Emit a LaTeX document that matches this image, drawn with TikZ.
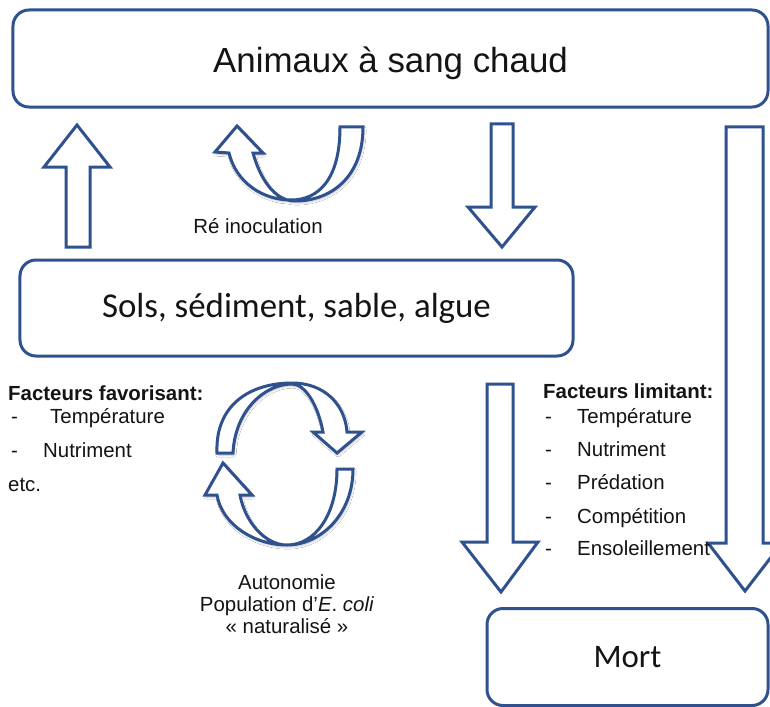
\documentclass[tikz,border=0pt]{standalone}
\usepackage{fontspec}
\setmainfont{Liberation Sans}
\newfontfamily\calib{Carlito}
\usetikzlibrary{shadows.blur}
\definecolor{ob}{RGB}{47,82,143}
\definecolor{tx}{RGB}{20,20,20}
\begin{document}
\begin{tikzpicture}[x=1bp,y=-1bp,
  box/.style={draw=ob, line width=3bp, rounded corners=16bp, fill=white, text=tx, inner sep=0pt},
  blk/.style={draw=ob, line width=3bp, fill=white, line join=miter},
  crv/.style={draw=ob, line width=3bp, fill=white, line join=miter,
    blur shadow={shadow xshift=1bp, shadow yshift=-2bp, shadow opacity=25, shadow blur steps=6}},
  small/.style={font=\fontsize{20.5}{22}\selectfont, text=tx, inner sep=0pt},
  smallb/.style={font=\bfseries\fontsize{20.5}{22}\selectfont, text=tx, inner sep=0pt}]
\clip (0,0) rectangle (770,707);
\useasboundingbox (0,0) rectangle (770,707);
\fill[white] (0,0) rectangle (770,707);

% boxes
\node[box, minimum width=755bp, minimum height=97bp, text height=29bp, text depth=0bp, font=\fontsize{35}{40}\selectfont] (animaux) at (390.5,58.5) {Animaux à sang chaud};
\node[box, minimum width=553bp, minimum height=96bp, font=\calib\fontsize{35}{40}\selectfont] (sols) at (296.5,308) {Sols, sédiment, sable, algue};
\node[box, minimum width=281bp, minimum height=97bp, font=\calib\fontsize{33}{40}\selectfont] (mort) at (627.5,657) {Mort};

% straight block arrows
\draw[blk] (66,247) -- (66,167) -- (44,167) -- (77,125) -- (110,167) -- (90,167) -- (90,247) -- cycle;
\draw[blk] (491,124) -- (513,124) -- (513,207) -- (535,207) -- (502,247) -- (468,207) -- (491,207) -- cycle;
\draw[blk] (726,127) -- (763,127) -- (763,543) -- (782,543) -- (745,591) -- (708,543) -- (726,543) -- cycle;
\draw[blk] (487,384) -- (513,384) -- (513,542) -- (538,542) -- (501,592) -- (462,542) -- (487,542) -- cycle;

% curved arrow: re-inoculation
\draw[crv] (363,127) -- (340,127) .. controls (340,180) and (318,200) .. (291,200)
  .. controls (262,200) and (236,182) .. (229,153) -- (215,152) -- (237,126) -- (263,153) -- (253,153)
  .. controls (260,178) and (274,201) .. (295,201) .. controls (330,201) and (363,178) .. (363,127) -- cycle;

% cycle: top arrow
\draw[crv] (217,453) .. controls (215,405) and (250,383) .. (292,383)
  .. controls (325,383) and (345,405) .. (347,432) -- (362,432) -- (337,453) -- (313,432) -- (323,432)
  .. controls (318,405) and (305,384) .. (292,384) .. controls (265,384) and (235,410) .. (233,453) -- cycle;
% cycle: bottom arrow
\draw[crv] (353,469) -- (337,469) .. controls (337,515) and (315,545) .. (287,545)
  .. controls (255,545) and (222,525) .. (217,495) -- (205,495) -- (223,463) -- (252,495) -- (240,495)
  .. controls (245,522) and (265,545) .. (287,545) .. controls (320,545) and (353,515) .. (353,469) -- cycle;

% labels
\node[small] (reino) at (258,226) {Ré inoculation};
\node[small, align=center] (auto) at (287,604) {Autonomie\\Population d’\textit{E}. \textit{coli}\\« naturalisé »};

% favorisant (baselines)
\node[smallb, anchor=base west] (fav) at (8,400) {Facteurs favorisant:};
\node[small, anchor=base west] (fd1) at (11,423) {-};
\node[small, anchor=base west] (f1) at (50,423) {Température};
\node[small, anchor=base west] (fd2) at (11,457) {-};
\node[small, anchor=base west] (f2) at (43,457) {Nutriment};
\node[small, anchor=base west] (f3) at (8,491) {etc.};

% limitant
\node[smallb, anchor=base west] (lim) at (543,398) {Facteurs limitant:};
\foreach \y/\t [count=\i] in {423/Température,456/Nutriment,489/Prédation,523/Compétition,555/Ensoleillement}{
  \node[small, anchor=base west] (ld\i) at (545,\y) {-};
  \node[small, anchor=base west] (l\i) at (577,\y) {\t};
}
\end{tikzpicture}
\end{document}
